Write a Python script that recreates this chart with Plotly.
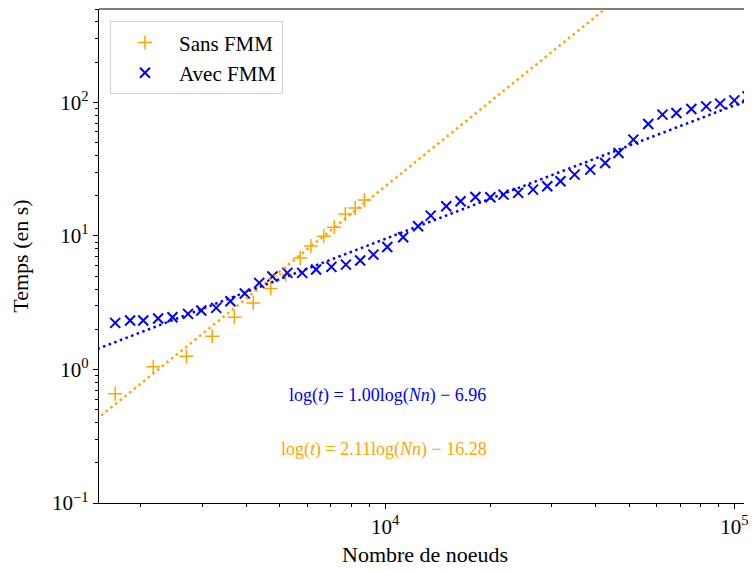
import numpy as np
import plotly.graph_objects as go

# ---- data ----
nodes_sans = [1688, 2169, 2699, 3200, 3703, 4194, 4709, 5195, 5716, 6132,
              6675, 7153, 7696, 8214, 8732]
time_sans = [0.657, 1.046, 1.255, 1.772, 2.459, 3.151, 4.032, 5.133, 6.845, 8.389,
             9.93, 11.60, 14.56, 16.20, 18.54]

nodes_avec = [1688, 1862, 2031, 2240, 2462, 2728, 2977, 3285, 3607, 3966,
              4362, 4759, 5250, 5791, 6346, 7021, 7726, 8488, 9262, 10150,
              11270, 12434, 13514, 14970, 16450, 18150, 20020, 21840, 24050, 26530,
              29140, 31790, 34890, 38690, 42690, 46610, 51400, 56710, 62280, 68270,
              75330, 83090, 91060, 100000, 109170]
time_avec = [2.233, 2.323, 2.323, 2.404, 2.459, 2.608, 2.760, 2.892, 3.239, 3.700,
             4.448, 4.960, 5.285, 5.285, 5.595, 5.861, 6.098, 6.534, 7.244, 8.246,
             9.761, 11.80, 14.19, 16.66, 18.16, 19.58, 19.45, 20.38, 20.99, 22.22,
             23.52, 25.63, 28.76, 31.36, 35.19, 41.81, 52.58, 68.91, 80.91, 83.32,
             89.24, 93.35, 97.79, 103.5, 110.9]

# fitted models: ln(t) = a ln(Nn) + b
fit_avec = (1.00, -6.96)
fit_sans = (2.11, -16.28)

labels = ["Sans FMM", "Avec FMM"]
x_title = "Nombre de noeuds"
y_title = "Temps (en s)"
fit_texts = ["log(<i>t</i>) = 1.00log(<i>Nn</i>) − 6.96",
             "log(<i>t</i>) = 2.11log(<i>Nn</i>) − 16.28"]

x_range = [1517, 106600]
y_range = [0.1, 500]
x_tickvals = [1e4, 1e5]
x_ticktext = ["10<sup>4</sup>", "10<sup>5</sup>"]
y_tickvals = [0.1, 1, 10, 100]
y_ticktext = ["10<sup>−1</sup>", "10<sup>0</sup>", "10<sup>1</sup>", "10<sup>2</sup>"]

ORANGE = "#FFA500"
BLUE = "#0000FF"
FONT = "Liberation Serif"


def minor_vals(lo, hi):
    vals = []
    for d in range(int(np.floor(np.log10(lo))), int(np.ceil(np.log10(hi))) + 1):
        for m in range(2, 10):
            v = m * 10 ** d
            if lo <= v <= hi:
                vals.append(v)
    return vals


fig = go.Figure()

fig.add_trace(go.Scatter(
    x=nodes_sans, y=time_sans, mode="markers", name=labels[0],
    marker=dict(symbol="cross-thin", size=10, color=ORANGE,
                line=dict(color=ORANGE, width=1.5)),
))
fig.add_trace(go.Scatter(
    x=nodes_avec, y=time_avec, mode="markers", name=labels[1],
    marker=dict(symbol="x-thin", size=10, color=BLUE,
                line=dict(color=BLUE, width=2)),
))

line_x = np.array([1000.0, 200000.0])
for (a, b), col in [(fit_sans, ORANGE), (fit_avec, BLUE)]:
    fig.add_trace(go.Scatter(
        x=line_x, y=np.exp(b) * line_x ** a, mode="lines", showlegend=False,
        line=dict(color=col, width=2.5, dash="2.5px,3.5px"), hoverinfo="skip",
    ))

fig.add_annotation(x=0.448, y=0.193, xref="paper", yref="paper",
                   text=fit_texts[0], showarrow=False,
                   font=dict(family=FONT, size=18, color=BLUE))
fig.add_annotation(x=0.442, y=0.082, xref="paper", yref="paper",
                   text=fit_texts[1], showarrow=False,
                   font=dict(family=FONT, size=18, color=ORANGE))
# x-axis title, centred on the full (uncropped) axis length
fig.add_annotation(x=0.505, y=-0.105, xref="paper", yref="paper",
                   text=x_title, showarrow=False, yanchor="middle",
                   font=dict(family=FONT, size=22, color="black"))

fig.add_shape(type="line", xref="paper", yref="paper", x0=0, x1=1, y0=1, y1=1,
              line=dict(color="black", width=1.2))

axis_common = dict(
    type="log", showgrid=False, zeroline=False, showline=True,
    linecolor="black", linewidth=1.2, ticks="outside", ticklen=5, tickwidth=1,
    tickcolor="black", tickfont=dict(family=FONT, size=21, color="black"),
    ticklabeloverflow="allow",
)

fig.update_xaxes(
    **axis_common, range=[np.log10(x_range[0]), np.log10(x_range[1])],
    tickmode="array", tickvals=x_tickvals, ticktext=x_ticktext,
    minor=dict(tickvals=minor_vals(*x_range), ticks="outside", ticklen=3,
               tickcolor="black", tickwidth=1),
)
fig.update_yaxes(
    **axis_common, range=[np.log10(y_range[0]), np.log10(y_range[1])],
    tickmode="array", tickvals=y_tickvals, ticktext=y_ticktext,
    minor=dict(tickvals=minor_vals(*y_range), ticks="outside", ticklen=3,
               tickcolor="black", tickwidth=1),
    title=dict(text=y_title, font=dict(family=FONT, size=22, color="black"),
               standoff=18),
)

# page body has an 8px margin: figure sized to the visible area
fig.update_layout(
    width=740, height=563,
    margin=dict(l=91, r=0, t=1, b=68),
    paper_bgcolor="white", plot_bgcolor="white",
    font=dict(family=FONT, color="black"),
    legend=dict(x=0.017, y=0.975, xanchor="left", yanchor="top",
                bgcolor="white", bordercolor="#d0d0d0", borderwidth=1,
                font=dict(family=FONT, size=21, color="black"),
                itemwidth=58),
)

fig.write_html("out.html")
